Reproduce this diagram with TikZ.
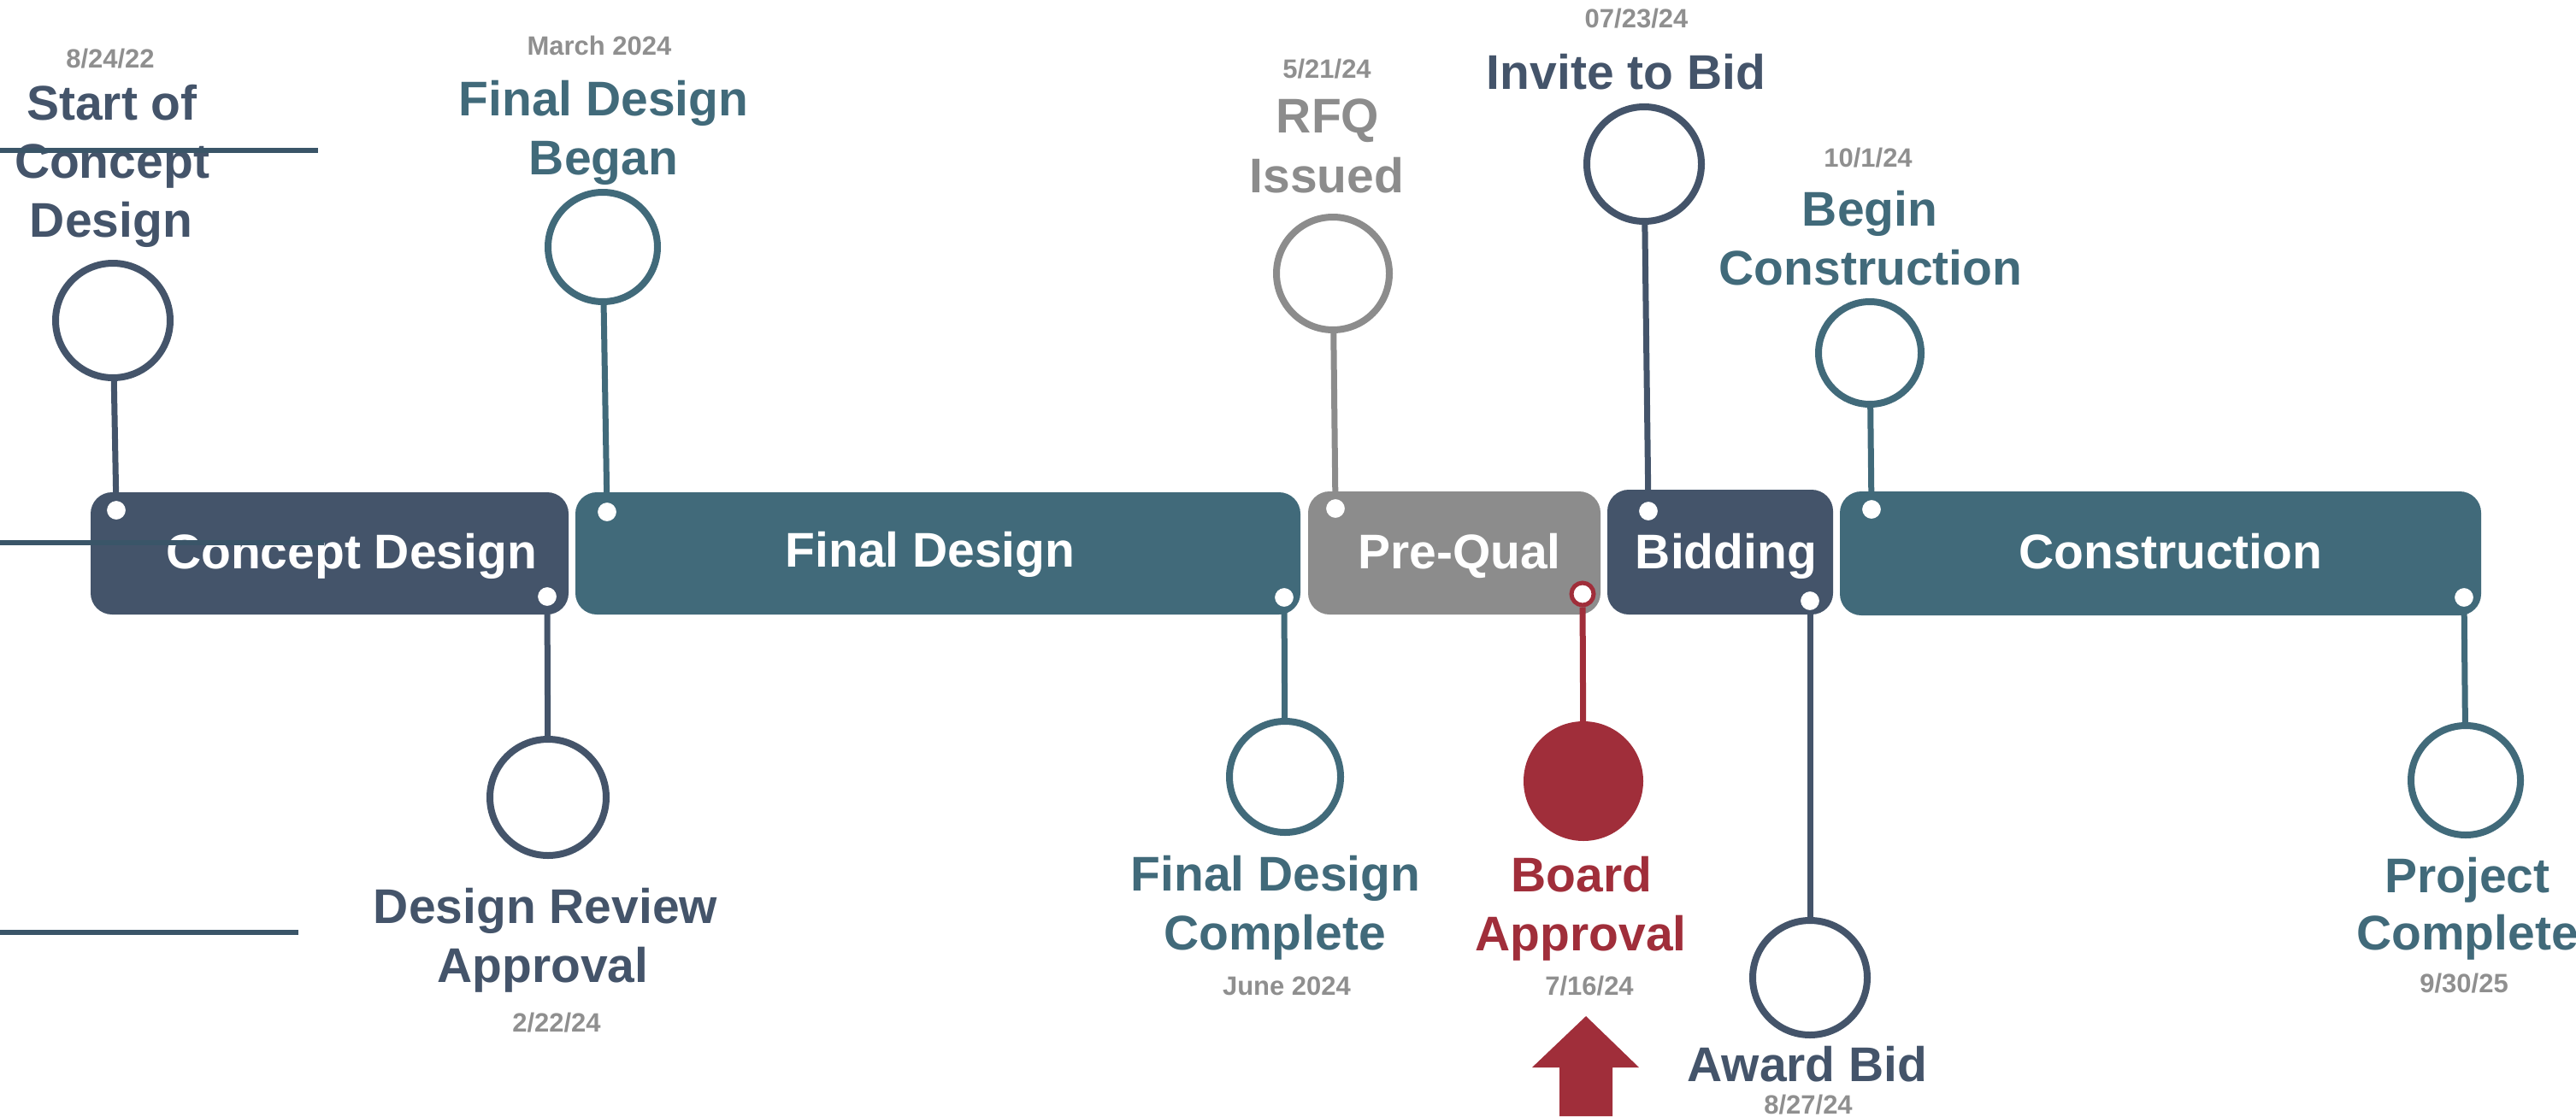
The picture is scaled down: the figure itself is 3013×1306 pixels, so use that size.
\documentclass[tikz,border=0pt]{standalone}
\usepackage{fontspec}
\setmainfont{Liberation Sans}
\definecolor{dk}{RGB}{68,84,106}
\definecolor{tl}{RGB}{65,106,122}
\definecolor{gy}{RGB}{140,140,140}
\definecolor{dt}{RGB}{143,143,143}
\definecolor{rd}{RGB}{160,46,58}
\definecolor{sl}{RGB}{58,85,104}
\begin{document}
\begin{tikzpicture}[x=1pt,y=-1pt,
  bar/.style={rounded corners=25pt, inner sep=0pt, outer sep=0pt},
  bartxt/.style={anchor=base, inner sep=0pt, text=white, font=\fontsize{57}{68}\selectfont\bfseries},
  lbl/.style={anchor=base, inner sep=0pt, font=\fontsize{57}{68}\selectfont\bfseries},
  dte/.style={anchor=base, inner sep=0pt, text=dt, font=\fontsize{31}{37}\selectfont\bfseries},
  ring/.style={circle, draw, line width=8pt, fill=white, inner sep=0pt},
  dotm/.style={circle, draw, line width=4pt, fill=white, inner sep=0pt, minimum size=26pt},
  stem/.style={line width=7pt},
  stray/.style={draw=sl, line width=6pt}]
\useasboundingbox (0,0) rectangle (3013,1306);
% bars
\node[bar, fill=dk, minimum width=559pt, minimum height=143pt] (b1) at (385.5,647.5) {};
\node[bar, fill=tl, minimum width=848pt, minimum height=143pt] (b2) at (1097,647.5) {};
\node[bar, fill=gy, minimum width=342pt, minimum height=144pt] (b3) at (1701,647) {};
\node[bar, fill=dk, minimum width=264pt, minimum height=146pt] (b4) at (2012,646) {};
\node[bar, fill=tl, minimum width=750pt, minimum height=145pt] (b5) at (2527,647.5) {};
\node[bartxt] (t1) at (411,665) {Concept Design};
\node[bartxt] (t2) at (1088,663) {Final Design};
\node[bartxt] (t3) at (1707,665) {Pre-Qual};
\node[bartxt] (t4) at (2019,665) {Bidding};
\node[bartxt] (t5) at (2539,665) {Construction};
% circles
\node[ring, draw=dk, minimum size=134pt] (c1) at (132,375) {};
\node[ring, draw=tl, minimum size=128pt] (c2) at (705,289) {};
\node[ring, draw=dk, minimum size=136pt] (c3) at (641,933) {};
\node[ring, draw=gy, minimum size=132pt] (c4) at (1559,320) {};
\node[ring, draw=tl, minimum size=130pt] (c5) at (1503,909) {};
\node[ring, draw=dk, minimum size=134pt] (c6) at (1923,192) {};
\node[circle, fill=rd, inner sep=0pt, minimum size=140pt] (c7) at (1852,914) {};
\node[ring, draw=tl, minimum size=120pt] (c8) at (2187,413) {};
\node[ring, draw=dk, minimum size=134pt] (c9) at (2117,1144) {};
\node[ring, draw=tl, minimum size=128pt] (c10) at (2884,913) {};
% dots
\node[dotm, draw=dk] (d1) at (136,597) {};
\node[dotm, draw=tl] (d2) at (710,599) {};
\node[dotm, draw=dk] (d3) at (640,698) {};
\node[dotm, draw=gy] (d4) at (1562,595) {};
\node[dotm, draw=tl] (d5) at (1502,699) {};
\node[dotm, draw=dk] (d6) at (1928,598) {};
\node[dotm, draw=rd, line width=5pt] (d7) at (1851,695) {};
\node[dotm, draw=tl] (d8) at (2189,596) {};
\node[dotm, draw=dk] (d9) at (2117,703) {};
\node[dotm, draw=tl] (d10) at (2882,699) {};
% stems
\draw[stem, dk] (c1) -- (d1);
\draw[stem, tl] (c2) -- (d2);
\draw[stem, dk] (c3) -- (d3);
\draw[stem, gy] (c4) -- (d4);
\draw[stem, tl] (c5) -- (d5);
\draw[stem, dk] (c6) -- (d6);
\draw[stem, rd] (c7) -- (d7);
\draw[stem, tl] (c8) -- (d8);
\draw[stem, dk] (c9) -- (d9);
\draw[stem, tl] (c10) -- (d10);
% labels
\node[dte] (m1d) at (129,80) {8/24/22};
\node[lbl, text=dk] (m1a) at (131,140) {Start of};
\node[lbl, text=dk] (m1b) at (131,208) {Concept};
\node[lbl, text=dk] (m1c) at (130,277) {Design};
\node[dte] (m2d) at (701,64) {March 2024};
\node[lbl, text=tl] (m2a) at (706,135) {Final Design};
\node[lbl, text=tl] (m2b) at (706,204) {Began};
\node[lbl, text=dk] (m3a) at (638,1080) {Design Review};
\node[lbl, text=dk] (m3b) at (635,1149) {Approval};
\node[dte] (m3d) at (651,1207) {2/22/24};
\node[dte] (m4d) at (1552,92) {5/21/24};
\node[lbl, text=gy] (m4a) at (1553,155) {RFQ};
\node[lbl, text=gy] (m4b) at (1552,225) {Issued};
\node[lbl, text=tl] (m5a) at (1492,1042) {Final Design};
\node[lbl, text=tl] (m5b) at (1491,1111) {Complete};
\node[dte] (m5d) at (1505,1164) {June 2024};
\node[dte] (m6d) at (1914,33) {07/23/24};
\node[lbl, text=dk] (m6a) at (1902,104) {Invite to Bid};
\node[lbl, text=rd] (m7a) at (1850,1043) {Board};
\node[lbl, text=rd] (m7b) at (1849,1112) {Approval};
\node[dte] (m7d) at (1859,1164) {7/16/24};
\node[dte] (m8d) at (2185,195) {10/1/24};
\node[lbl, text=tl] (m8a) at (2187,264) {Begin};
\node[lbl, text=tl] (m8b) at (2188,333) {Construction};
\node[lbl, text=dk] (m9a) at (2114,1265) {Award Bid};
\node[dte] (m9d) at (2115,1303) {8/27/24};
\node[lbl, text=tl] (m10a) at (2886,1044) {Project};
\node[lbl, text=tl] (m10b) at (2886,1111) {Complete};
\node[dte] (m10d) at (2882,1161) {9/30/25};
% arrow
\fill[rd] (1855,1189) -- (1917,1249) -- (1886,1249) -- (1886,1306) -- (1824,1306) -- (1824,1249) -- (1792,1249) -- cycle;
% stray lines
\coordinate (s1a) at (0,176); \coordinate (s1b) at (372,176);
\coordinate (s2a) at (0,635); \coordinate (s2b) at (379,635);
\coordinate (s3a) at (0,1091); \coordinate (s3b) at (349,1091);
\draw[stray] (s1a) -- (s1b);
\draw[stray] (s2a) -- (s2b);
\draw[stray] (s3a) -- (s3b);
\end{tikzpicture}
\end{document}
